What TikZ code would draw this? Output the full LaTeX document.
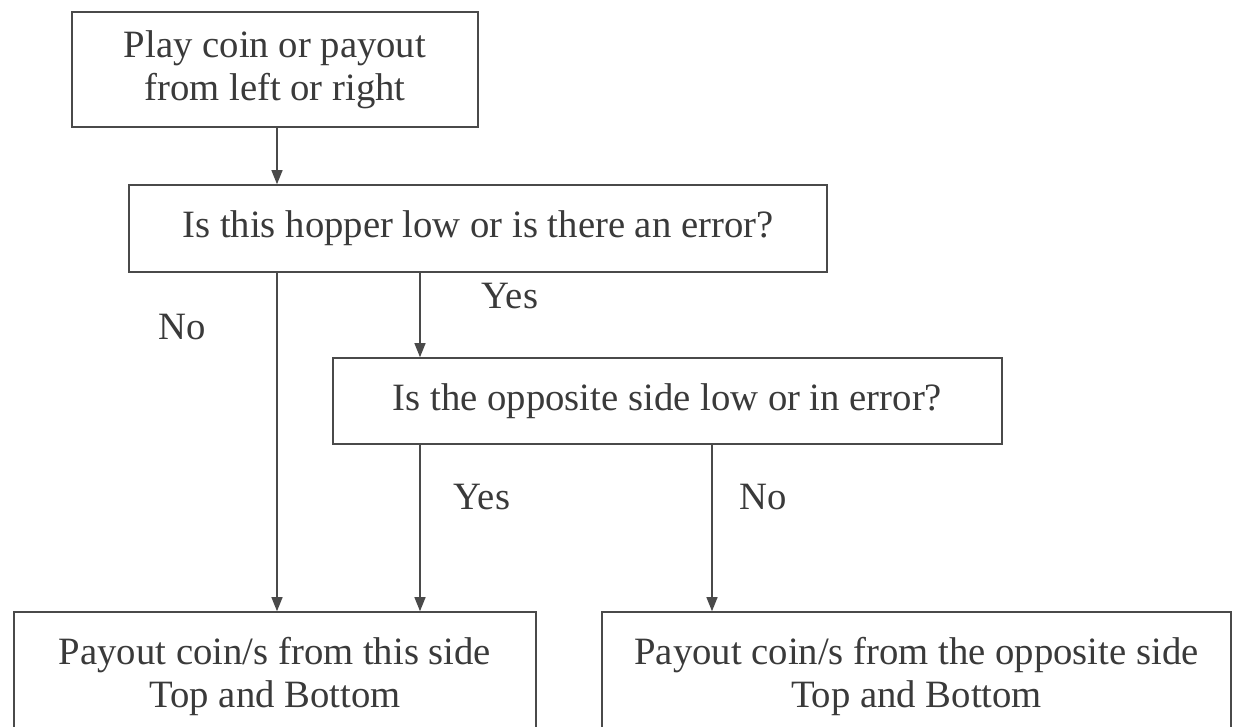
\documentclass[tikz,border=0pt]{standalone}
\usepackage{fontspec}
\setmainfont{Liberation Serif}
\usetikzlibrary{arrows.meta}
\definecolor{ink}{HTML}{3A3A3A}
\definecolor{edge}{HTML}{4A4A4A}
\tikzset{
  boxnode/.style={draw=edge, line width=1.6pt, rectangle, align=center, text=ink,
    inner sep=0pt, font=\fontsize{38.7pt}{43pt}\selectfont},
  lbl/.style={text=ink, inner sep=0pt, font=\fontsize{38.7pt}{43pt}\selectfont},
  arr/.style={draw=edge, line width=1.3pt, -{Triangle[length=14pt,width=11pt]}}
}
\begin{document}
\begin{tikzpicture}[x=1pt,y=-1pt]
\useasboundingbox (0,0) rectangle (1235,727);
\clip (0,0) rectangle (1235,727);
\fill[white] (0,0) rectangle (1235,727);

\node[boxnode, minimum width=406pt, minimum height=115pt] (b1) at (275,69.5)
  {Play coin or payout\\from left or right};
\node[boxnode, minimum width=698pt, minimum height=87pt] (b2) at (478,228.5)
  {Is this hopper low or is there an error?};
\node[boxnode, minimum width=669pt, minimum height=86pt] (b3) at (667.5,401)
  {Is the opposite side low or in error?};
\node[boxnode, minimum width=522pt, minimum height=128pt] (b4) at (275,676)
  {Payout coin/s from this side\\Top and Bottom};
\node[boxnode, minimum width=629pt, minimum height=128pt] (b5) at (916.5,676)
  {Payout coin/s from the opposite side\\Top and Bottom};

\coordinate (xa) at (277,0);
\coordinate (xb) at (420,0);
\coordinate (xc) at (712,0);

\draw[arr] (b1.south -| xa) -- (b2.north -| xa);
\draw[arr] (b2.south -| xa) -- (b4.north -| xa);
\draw[arr] (b2.south -| xb) -- (b3.north -| xb);
\draw[arr] (b3.south -| xb) -- (b4.north -| xb);
\draw[arr] (b3.south -| xc) -- (b5.north -| xc);

\node[lbl] (l1) at (182,327) {No};
\node[lbl] (l2) at (510,296) {Yes};
\node[lbl] (l3) at (482,497) {Yes};
\node[lbl] (l4) at (763,497) {No};
\end{tikzpicture}
\end{document}
